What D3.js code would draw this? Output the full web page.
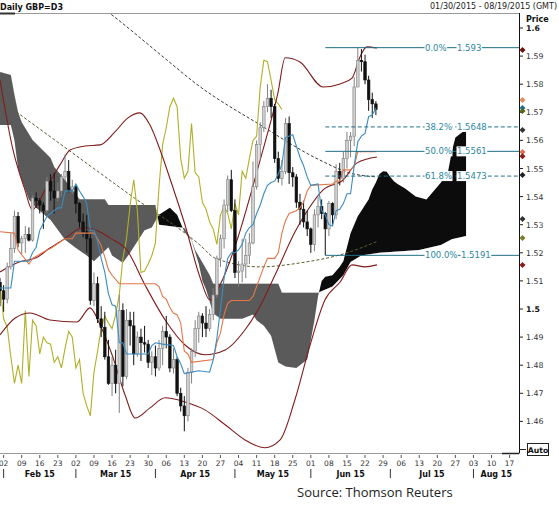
<!DOCTYPE html>
<html><head><meta charset="utf-8">
<script src="https://cdn.jsdelivr.net/npm/d3@7/dist/d3.min.js"></script>
<style>
html,body{margin:0;padding:0;background:#fff;}
svg{display:block;}
text{font-family:"DejaVu Sans",Verdana,sans-serif;}
</style></head><body>
<svg id="c" width="559" height="505"></svg>
<script>
// ---------------- DATA ----------------
const title = "Daily GBP=D3";
const rangeText = "01/30/2015 - 08/19/2015 (GMT)";
const sourceText = "Source: Thomson Reuters";
const startDate = "2015-01-30"; // first candle, one candle per trading day
const opens  = [1.5095,1.5065,1.5035,1.5150,1.5215,1.5330,1.5235,1.5250,1.5265,1.5245,1.5395,1.5385,1.5370,1.5350,1.5455,1.5420,1.5395,1.5420,1.5470,1.5490,1.5425,1.5435,1.5375,1.5310,1.5275,1.5250,1.5030,1.5090,1.4965,1.4935,1.4830,1.4735,1.4800,1.4735,1.4995,1.4760,1.4960,1.4940,1.4840,1.4900,1.4880,1.4875,1.4810,1.4830,1.4790,1.4860,1.4920,1.4900,1.4790,1.4820,1.4700,1.4655,1.4620,1.4775,1.4850,1.4930,1.4975,1.4950,1.4930,1.4980,1.5050,1.5180,1.5250,1.5370,1.5460,1.5350,1.5130,1.5135,1.5160,1.5190,1.5235,1.5435,1.5585,1.5645,1.5720,1.5750,1.5720,1.5535,1.5465,1.5490,1.5660,1.5485,1.5470,1.5380,1.5355,1.5310,1.5285,1.5230,1.5335,1.5365,1.5340,1.5285,1.5375,1.5335,1.5490,1.5465,1.5535,1.5600,1.5615,1.5790,1.5885,1.5880,1.5815,1.5745,1.5730];
const highs  = [1.5110,1.5085,1.5165,1.5270,1.5350,1.5345,1.5260,1.5295,1.5290,1.5405,1.5415,1.5395,1.5380,1.5470,1.5480,1.5485,1.5450,1.5480,1.5550,1.5530,1.5460,1.5440,1.5380,1.5340,1.5335,1.5270,1.5130,1.5115,1.5010,1.4990,1.4890,1.4830,1.4855,1.5050,1.5020,1.5000,1.4990,1.4990,1.4920,1.4930,1.4940,1.4890,1.4850,1.4870,1.4890,1.4940,1.4975,1.4910,1.4860,1.4830,1.4720,1.4690,1.4790,1.4860,1.4960,1.4990,1.4985,1.5010,1.5000,1.5075,1.5190,1.5265,1.5390,1.5475,1.5495,1.5390,1.5170,1.5250,1.5250,1.5270,1.5525,1.5600,1.5665,1.5740,1.5800,1.5780,1.5730,1.5560,1.5530,1.5680,1.5685,1.5505,1.5480,1.5410,1.5385,1.5350,1.5290,1.5355,1.5400,1.5390,1.5345,1.5385,1.5380,1.5515,1.5520,1.5560,1.5630,1.5630,1.5825,1.5930,1.5925,1.5905,1.5830,1.5770,1.5740];
const lows   = [1.5010,1.4990,1.5020,1.5140,1.5200,1.5220,1.5195,1.5200,1.5240,1.5240,1.5360,1.5340,1.5285,1.5340,1.5385,1.5340,1.5385,1.5400,1.5455,1.5415,1.5410,1.5340,1.5290,1.5255,1.5200,1.5015,1.5010,1.4950,1.4900,1.4820,1.4730,1.4690,1.4700,1.4630,1.4725,1.4750,1.4870,1.4800,1.4830,1.4815,1.4845,1.4790,1.4765,1.4760,1.4780,1.4800,1.4860,1.4775,1.4770,1.4690,1.4635,1.4565,1.4600,1.4735,1.4830,1.4880,1.4900,1.4900,1.4920,1.4960,1.5040,1.5150,1.5215,1.5345,1.5345,1.5110,1.5080,1.5095,1.5110,1.5160,1.5230,1.5425,1.5530,1.5630,1.5700,1.5680,1.5520,1.5450,1.5440,1.5480,1.5445,1.5435,1.5360,1.5300,1.5290,1.5260,1.5200,1.5205,1.5290,1.5320,1.5191,1.5260,1.5300,1.5320,1.5440,1.5450,1.5500,1.5540,1.5580,1.5790,1.5845,1.5800,1.5705,1.5680,1.5690];
const closes = [1.5065,1.5035,1.5150,1.5215,1.5330,1.5235,1.5250,1.5265,1.5245,1.5395,1.5385,1.5370,1.5350,1.5455,1.5420,1.5395,1.5420,1.5470,1.5490,1.5425,1.5435,1.5375,1.5310,1.5275,1.5250,1.5030,1.5090,1.4965,1.4935,1.4830,1.4735,1.4800,1.4735,1.4995,1.4760,1.4960,1.4940,1.4840,1.4900,1.4880,1.4875,1.4810,1.4830,1.4790,1.4860,1.4920,1.4900,1.4790,1.4820,1.4700,1.4655,1.4620,1.4775,1.4850,1.4930,1.4975,1.4950,1.4930,1.4980,1.5050,1.5180,1.5250,1.5370,1.5460,1.5350,1.5130,1.5135,1.5160,1.5190,1.5235,1.5435,1.5585,1.5645,1.5720,1.5750,1.5720,1.5535,1.5465,1.5490,1.5660,1.5485,1.5470,1.5380,1.5355,1.5310,1.5285,1.5230,1.5335,1.5365,1.5340,1.5285,1.5375,1.5335,1.5490,1.5465,1.5535,1.5600,1.5615,1.5790,1.5885,1.5880,1.5815,1.5745,1.5730,1.5710];

// indicator readings: [trading-day index, price]
const tenkan = [[0,1.5075],[3,1.5075],[4,1.517],[8,1.517],[9,1.520],[10,1.522],[11,1.528],[12,1.5305],[13,1.533],[14,1.534],[16,1.536],[17,1.536],[18,1.542],[20,1.542],[21,1.5445],[22,1.542],[23,1.540],[24,1.5375],[25,1.528],[26,1.528],[27,1.524],[28,1.518],[29,1.513],[30,1.5055],[31,1.5015],[32,1.501],[33,1.488],[34,1.488],[35,1.484],[41,1.484],[42,1.487],[43,1.488],[45,1.4875],[48,1.487],[49,1.483],[50,1.4805],[51,1.477],[55,1.478],[58,1.4775],[59,1.482],[60,1.4895],[61,1.500],[62,1.511],[63,1.518],[64,1.520],[65,1.520],[66,1.521],[67,1.523],[68,1.527],[69,1.529],[70,1.530],[71,1.534],[72,1.537],[73,1.541],[74,1.544],[75,1.545],[76,1.5455],[77,1.548],[78,1.5515],[79,1.561],[81,1.562],[82,1.558],[83,1.554],[84,1.551],[85,1.547],[86,1.544],[88,1.5445],[89,1.535],[90,1.5335],[91,1.530],[92,1.5295],[93,1.535],[94,1.5355],[95,1.5375],[96,1.541],[97,1.541],[98,1.551],[99,1.5595],[100,1.5615],[101,1.5625],[102,1.5685],[103,1.569],[104,1.5715]];
const kijun = [[0,1.5275],[4,1.527],[5,1.521],[8,1.516],[9,1.518],[13,1.521],[14,1.5215],[18,1.525],[20,1.525],[21,1.527],[26,1.527],[27,1.525],[28,1.5225],[29,1.5185],[30,1.514],[31,1.512],[33,1.509],[43,1.509],[44,1.508],[45,1.5045],[46,1.5035],[47,1.5005],[48,1.4985],[49,1.498],[50,1.495],[51,1.485],[52,1.484],[53,1.481],[59,1.482],[60,1.488],[61,1.4915],[62,1.498],[63,1.502],[64,1.503],[69,1.503],[70,1.5045],[71,1.508],[72,1.5115],[73,1.515],[74,1.518],[76,1.518],[77,1.520],[78,1.527],[79,1.5315],[80,1.534],[82,1.535],[83,1.536],[84,1.538],[85,1.542],[86,1.544],[92,1.5445],[93,1.5455],[94,1.5455],[95,1.5495],[97,1.5495],[98,1.5508],[99,1.556],[104,1.556]];
const spanA = [[0,1.5655],[3,1.5655],[4,1.560],[5,1.550],[6,1.546],[8,1.539],[10,1.536],[14,1.5317],[18,1.5246],[21,1.5217],[24,1.519],[26,1.517],[30,1.522],[31,1.519],[34,1.5165],[36,1.520],[38,1.524],[40,1.528],[42,1.529],[44,1.5335],[47,1.536],[49,1.5335],[51,1.5275],[53,1.5245],[55,1.516],[56,1.510],[57,1.507],[59,1.4985],[61,1.4965],[67,1.4965],[70,1.498],[71,1.496],[73,1.494],[75,1.4905],[77,1.481],[79,1.4795],[82,1.479],[85,1.482],[86,1.489],[87,1.496],[88,1.5045],[89,1.510],[90,1.5115],[92,1.512],[94,1.515],[95,1.517],[96,1.522],[97,1.527],[98,1.530],[99,1.533],[100,1.535],[101,1.537],[102,1.539],[103,1.5425],[104,1.545],[105,1.548],[106,1.549],[107,1.5488],[108,1.547],[109,1.5455],[110,1.5445],[112,1.543],[115,1.540],[118,1.539],[120,1.542],[122,1.545],[124,1.549],[125,1.556],[126,1.561],[129,1.564]];
const spanB = [[0,1.5843],[3,1.5833],[4,1.5762],[5,1.570],[6,1.5665],[9,1.5601],[14,1.5537],[15,1.5505],[18,1.5459],[22,1.5391],[29,1.5391],[30,1.537],[43,1.537],[44,1.530],[51,1.5288],[53,1.5246],[54,1.521],[58,1.5121],[59,1.509],[77,1.509],[78,1.5058],[88,1.5058],[92,1.508],[95,1.512],[97,1.5167],[100,1.519],[105,1.520],[116,1.521],[122,1.5228],[125,1.5248],[129,1.526]];
const upperBB = [[0,1.5815],[3.6,1.5566],[6.9,1.5424],[8.9,1.5353],[12.5,1.5424],[16.6,1.5513],[19.4,1.5566],[23.5,1.5580],[27.7,1.5584],[31.8,1.5630],[35.4,1.5680],[38.7,1.5698],[41.5,1.5655],[44.3,1.5566],[47.6,1.5442],[51.2,1.5299],[55.3,1.5114],[58.1,1.5032],[60.9,1.5086],[65.9,1.5257],[69.7,1.5424],[73.3,1.5591],[76.9,1.5769],[78.9,1.5894],[83,1.5879],[89.4,1.5790],[94.1,1.5801],[97.4,1.5822],[99.6,1.5897],[101.5,1.5933],[104.3,1.5929]];
const midBB = [[0,1.5132],[5.5,1.5168],[10,1.5182],[13.8,1.5217],[17.4,1.5246],[23,1.5289],[27.7,1.5274],[30.4,1.5253],[35.1,1.5210],[40.1,1.5086],[45.7,1.4961],[51.2,1.4872],[56.7,1.4837],[62.3,1.4854],[67.8,1.4926],[71.4,1.4997],[76.1,1.5121],[81.6,1.5274],[85.2,1.5353],[89.4,1.5424],[94.9,1.5459],[98.8,1.5520],[104.3,1.5541]];
const lowerBB = [[0,1.4908],[4.2,1.4968],[8.3,1.4986],[13.8,1.4961],[21.3,1.4954],[24.9,1.5004],[27.7,1.4943],[31,1.4837],[34.6,1.4694],[37.4,1.4612],[41.5,1.4648],[45.7,1.4684],[51.2,1.4669],[56.7,1.4641],[62.3,1.4588],[67.8,1.4534],[73.3,1.4506],[77.5,1.4534],[81.6,1.4677],[85.8,1.4872],[89.9,1.5032],[94.1,1.5096],[97.4,1.5157],[101,1.5150],[104.3,1.5157]];
const sma100 = [[0,1.5744],[15.2,1.5601],[36,1.5406],[55.3,1.5228],[59.5,1.5181],[72,1.5150],[83,1.5164],[96,1.5200],[104.3,1.5240]];
const sma200 = [[0,1.632],[31,1.6046],[46.2,1.5886],[54,1.5804],[72,1.5655],[88.5,1.5530],[96.8,1.5484],[104.3,1.5470]];
const chikouShift = 26;

// Fibonacci retracement
const fibPct = ["0.0%","38.2%","50.0%","61.8%","100.0%"];
const fibVal = [1.593,1.5648,1.5561,1.5473,1.5191];
const fibStartDate = "2015-06-05";

// axis labels
const yTicks = [1.46,1.47,1.48,1.49,1.5,1.51,1.52,1.53,1.54,1.55,1.56,1.57,1.58,1.59,1.6];
const tickDates = ["2015-02-02","2015-02-09","2015-02-16","2015-02-23","2015-03-02","2015-03-09","2015-03-16","2015-03-23","2015-03-30","2015-04-06","2015-04-13","2015-04-20","2015-04-27","2015-05-04","2015-05-11","2015-05-18","2015-05-25","2015-06-01","2015-06-08","2015-06-15","2015-06-22","2015-06-29","2015-07-06","2015-07-13","2015-07-20","2015-07-27","2015-08-03","2015-08-10","2015-08-17"];
const monthStarts = ["2015-02-02","2015-03-02","2015-04-01","2015-05-01","2015-06-01","2015-07-01","2015-08-03"];
const monthLabels = ["Feb 15","Mar 15","Apr 15","May 15","Jun 15","Jul 15","Aug 15"];
// right-axis last-value markers
const markerSeries = ["upperBB","kijunLast","tenkan","chikou","spanA","kijun","midBB","sma200","spanB","sma100","lowerBB"];
const markerValues = [1.5922,1.5744,1.5715,1.5705,1.5637,1.5559,1.5544,1.5477,1.532,1.5253,1.5157];

// ---------------- STYLE / LAYOUT ----------------
const col = {
  bb:"#801c1c", tenkan:"#3a8cc0", kijun:"#e0784a", chikou:"#b0b028",
  sma100:"#5e5a30", sma200:"#3a3a3a", fib:"#1f6f86", fibText:"#2d86a0",
  cloudBull:"#0c0c0c", cloudBear:"#5a5a5a", up:"#cfcfcf", upStroke:"#808080", down:"#111"
};
const markerColor = {upperBB:"#6a1010",kijunLast:"#e38a5c",tenkan:"#1f6f8b",chikou:"#55651a",spanA:"#333",kijun:"#e07050",midBB:"#8b1c1c",sma200:"#222",spanB:"#333",sma100:"#7d7d28",lowerBB:"#8b1c1c"};
const W=559,H=505, plotL=0, plotR=519, plotT=14, plotB=453;

function tIndex(s){
  const d0=new Date(startDate+"T00:00:00Z"), d=new Date(s+"T00:00:00Z");
  let n=0; const t=new Date(d0);
  while(t<d){ t.setUTCDate(t.getUTCDate()+1); const w=t.getUTCDay(); if(w!==0&&w!==6) n++; }
  return n;
}

const x = d3.scaleLinear().domain([0,141]).range([0,509.6]);
const y = d3.scaleLinear().domain([1.45,1.60]).range([449.5,28]);

const svg = d3.select("#c");
svg.append("rect").attr("width",W).attr("height",H).attr("fill","#fff");

const defs = svg.append("defs");
defs.append("clipPath").attr("id","plotClip").append("rect")
  .attr("x",plotL).attr("y",plotT).attr("width",plotR-plotL).attr("height",plotB-plotT);

const line = d3.line().x(d=>x(d[0])).y(d=>y(d[1]));
const smooth = d3.line().x(d=>x(d[0])).y(d=>y(d[1])).curve(d3.curveMonotoneX);

// cloud clip regions relative to span B
const bPath = line(spanB);
const bFirst = x(spanB[0][0]), bLast = x(spanB[spanB.length-1][0]);
defs.append("clipPath").attr("id","aboveB").append("path")
  .attr("d", bPath + `L${bLast},0L${bFirst},0Z`);
defs.append("clipPath").attr("id","belowB").append("path")
  .attr("d", bPath + `L${bLast},${H}L${bFirst},${H}Z`);

const plot = svg.append("g").attr("clip-path","url(#plotClip)");

const cloudPath = line(spanA) + line(spanB.slice().reverse()).replace(/^M/,"L") + "Z";
plot.append("g").attr("clip-path","url(#belowB)").append("path").attr("d",cloudPath).attr("fill",col.cloudBear);
plot.append("g").attr("clip-path","url(#aboveB)").append("path").attr("d",cloudPath).attr("fill",col.cloudBull);

// moving averages (dashed)
plot.append("path").attr("d",smooth(sma200)).attr("fill","none").attr("stroke",col.sma200).attr("stroke-width",1).attr("stroke-dasharray","3,2");
plot.append("path").attr("d",smooth(sma100)).attr("fill","none").attr("stroke",col.sma100).attr("stroke-width",1).attr("stroke-dasharray","3,2");

// Chikou (closes drawn 26 sessions back)
const chikou = closes.map((c,i)=>[i-chikouShift,c]).filter(d=>d[0]>=0);
plot.append("path").attr("d",line(chikou)).attr("fill","none").attr("stroke",col.chikou).attr("stroke-width",1.1);

// Bollinger
[upperBB,midBB,lowerBB].forEach(s=>{
  plot.append("path").attr("d",smooth(s)).attr("fill","none").attr("stroke",col.bb).attr("stroke-width",1.1);
});

// candles
const cw = 2.6;
const cg = plot.append("g");
closes.forEach((c,i)=>{
  const o=opens[i], up=c>=o;
  const cx=x(i);
  cg.append("line").attr("x1",cx).attr("x2",cx).attr("y1",y(highs[i])).attr("y2",y(lows[i]))
    .attr("stroke",up?col.upStroke:col.down).attr("stroke-width",1);
  const top=y(Math.max(o,c)), bot=y(Math.min(o,c));
  cg.append("rect").attr("x",cx-cw/2).attr("y",top).attr("width",cw).attr("height",Math.max(1,bot-top))
    .attr("fill",up?col.up:col.down).attr("stroke",up?col.upStroke:col.down).attr("stroke-width",0.6);
});

// Ichimoku lines
plot.append("path").attr("d",line(kijun)).attr("fill","none").attr("stroke",col.kijun).attr("stroke-width",1.1);
plot.append("path").attr("d",line(tenkan)).attr("fill","none").attr("stroke",col.tenkan).attr("stroke-width",1.1);

// Fibonacci
const fx0 = x(tIndex(fibStartDate));
const fg = svg.append("g");
fibVal.forEach((v,i)=>{
  const yy=y(v);
  fg.append("line").attr("x1",fx0).attr("x2",plotR).attr("y1",yy).attr("y2",yy)
    .attr("stroke",col.fib).attr("stroke-width",1).attr("stroke-dasharray",(i===1||i===3)?"4,2.5":null);
  const t1 = fg.append("text").attr("x",425).attr("y",yy+3).attr("font-size",8.5).attr("fill",col.fibText).text(fibPct[i]);
  const vx = i===4?461:457;
  const t2 = fg.append("text").attr("x",vx).attr("y",yy+3).attr("font-size",8.5).attr("fill",col.fibText).text(fibVal[i].toString());
  [t1,t2].forEach(t=>{
    const b=t.node().getBBox();
    fg.insert("rect",()=>t.node()).attr("x",b.x-0.5).attr("y",b.y).attr("width",b.width+1).attr("height",b.height).attr("fill","#fff");
  });
});

// ---------- frame & axes ----------
svg.append("line").attr("x1",0).attr("x2",plotR).attr("y1",13.5).attr("y2",13.5).attr("stroke","#9a9a9a");
svg.append("line").attr("x1",0).attr("x2",15).attr("y1",13.5).attr("y2",13.5).attr("stroke","#333").attr("stroke-width",2);
svg.append("line").attr("x1",plotR+0.5).attr("x2",plotR+0.5).attr("y1",13).attr("y2",plotB+0.5).attr("stroke","#111");
svg.append("line").attr("x1",0).attr("x2",plotR).attr("y1",plotB+0.5).attr("y2",plotB+0.5).attr("stroke","#9a9a9a");
svg.append("line").attr("x1",502).attr("x2",plotR).attr("y1",plotB+0.5).attr("y2",plotB+0.5).attr("stroke","#222").attr("stroke-width",1.5);

svg.append("text").attr("x",0).attr("y",10).attr("font-size",8).attr("font-weight","bold").attr("fill","#111").text(title);
svg.append("text").attr("x",557).attr("y",9).attr("font-size",8).attr("text-anchor","end").attr("fill","#222").text(rangeText);
svg.append("text").attr("x",526).attr("y",22).attr("font-size",8).attr("font-weight","bold").attr("fill","#111").text("Price");

yTicks.forEach(v=>{
  const yy=y(v);
  svg.append("line").attr("x1",plotR).attr("x2",plotR+4).attr("y1",yy).attr("y2",yy).attr("stroke","#222");
  const bold = Math.abs(v-1.5)<1e-9 || Math.abs(v-1.6)<1e-9;
  svg.append("text").attr("x",526).attr("y",yy+3).attr("font-size",7.8).attr("font-weight",bold?"bold":"normal")
    .attr("fill",bold?"#111":"#333").text(d3.format(bold?".1f":".2f")(v));
});
svg.append("rect").attr("x",527.5).attr("y",443.5).attr("width",21).attr("height",12).attr("fill","#fff").attr("stroke","#222");
svg.append("text").attr("x",538).attr("y",452.5).attr("font-size",7.8).attr("font-weight","bold").attr("text-anchor","middle").attr("fill","#111").text("Auto");
svg.append("line").attr("x1",plotR).attr("x2",plotR+7).attr("y1",449.5).attr("y2",449.5).attr("stroke","#222");

// markers
markerValues.forEach((v,i)=>{
  const yy=y(v);
  svg.append("path").attr("d",`M${522.5},${yy-3}L${525.5},${yy}L${522.5},${yy+3}L${519.5},${yy}Z`).attr("fill",markerColor[markerSeries[i]]);
});

tickDates.forEach(s=>{
  const xx=x(tIndex(s));
  svg.append("line").attr("x1",xx).attr("x2",xx).attr("y1",455).attr("y2",458).attr("stroke","#555");
  svg.append("text").attr("x",xx).attr("y",466).attr("font-size",7.5).attr("text-anchor","middle").attr("fill","#333").text(s.slice(8));
});
const msx = monthStarts.map(s=>x(tIndex(s)));
msx.forEach((xx,i)=>{
  svg.append("line").attr("x1",xx).attr("x2",xx).attr("y1",469).attr("y2",478).attr("stroke","#333");
  const nx = i<msx.length-1 ? msx[i+1] : plotR;
  svg.append("text").attr("x",(xx+nx)/2).attr("y",477).attr("font-size",8).attr("font-weight","bold").attr("text-anchor","middle").attr("fill","#111").text(monthLabels[i]);
});

svg.append("text").attr("x",297).attr("y",497).attr("font-size",13).attr("fill","#222")
  .style("font-family","'Open Sans',sans-serif").text(sourceText);
</script>
</body></html>
